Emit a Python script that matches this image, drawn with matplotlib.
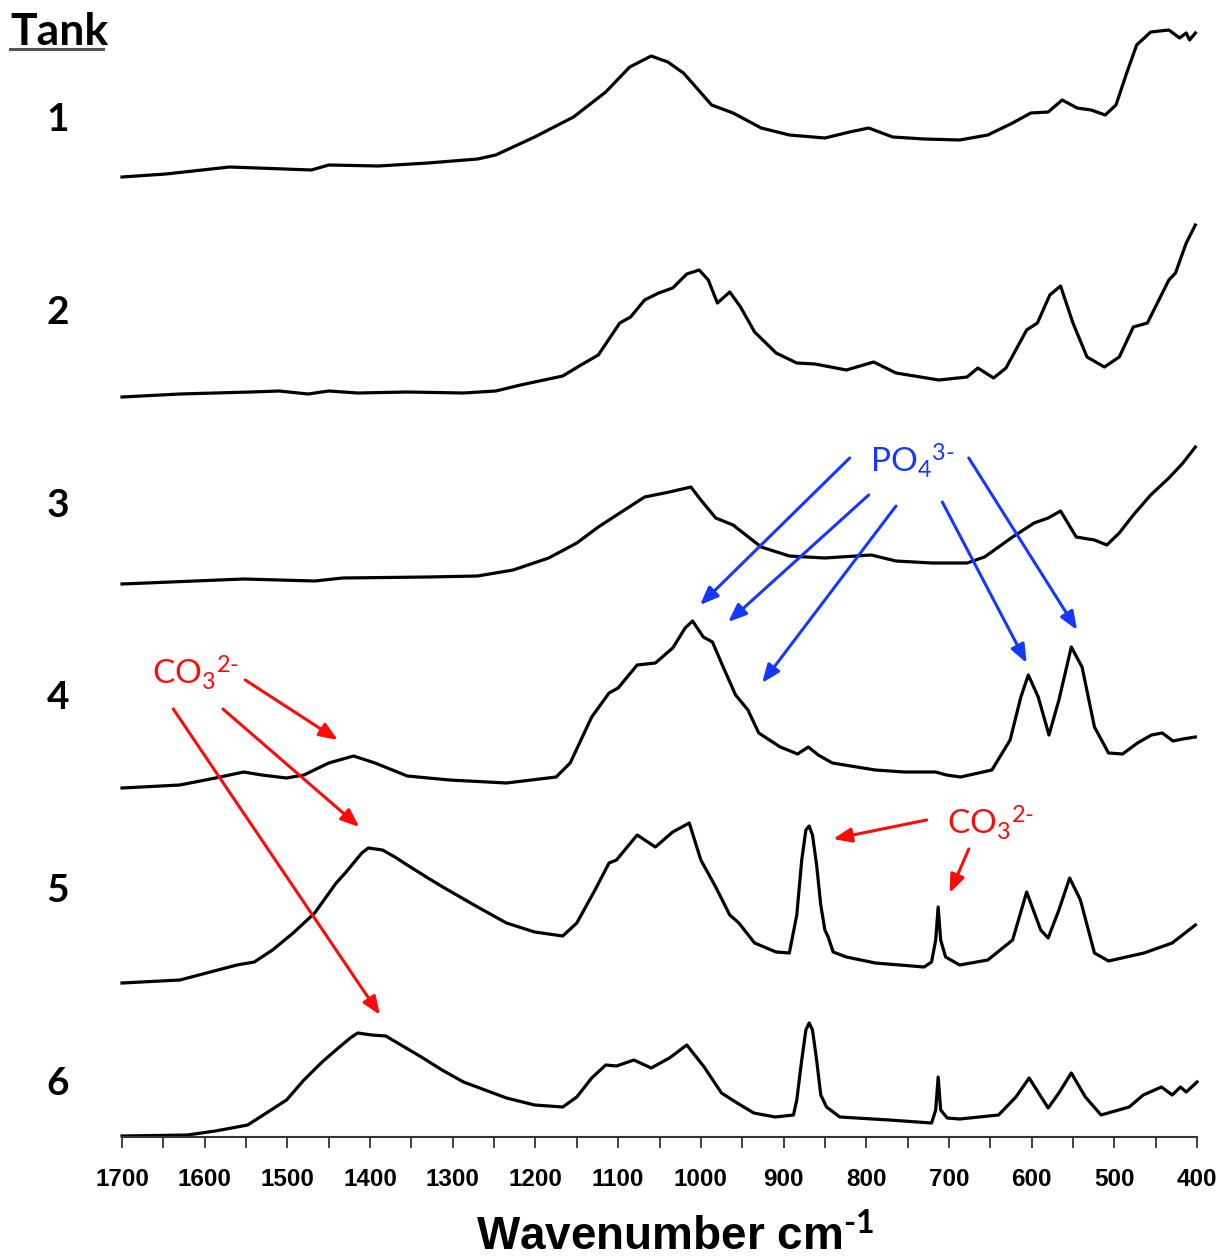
import matplotlib
matplotlib.use("Agg")
import matplotlib.pyplot as plt
from matplotlib.ticker import MultipleLocator
from matplotlib.lines import Line2D

plt.rcParams['mathtext.fontset'] = 'custom'
plt.rcParams['mathtext.rm'] = 'Lato'
plt.rcParams['mathtext.it'] = 'Lato:italic'
plt.rcParams['mathtext.bf'] = 'Lato:bold'

# spectra: wavenumber (cm-1) and absorbance above each trace's start
tanks = ['1', '2', '3', '4', '5', '6']
offsets = [960, 740, 553, 349, 154, 1]

wn1 = [1700, 1647, 1570, 1536, 1471, 1450, 1390, 1330, 1270, 1248, 1201, 1154, 1115, 1086, 1060, 1040, 1021,
       1005, 987, 961, 927, 893, 850, 820, 797, 768, 730, 687, 653, 623, 601, 580, 563, 545, 528, 511, 498,
       485, 473, 456, 434, 421, 413, 409, 402]
ab1 = [0, 3, 10, 9, 7, 12, 11, 14, 18, 22, 40, 60, 85, 110, 121, 115, 104, 89, 72, 64, 49, 42, 39, 45, 49,
       40, 38, 37, 42, 54, 64, 65, 77, 69, 67, 62, 72, 104, 132, 145, 147, 139, 144, 137, 144]

wn2 = [1700, 1630, 1544, 1510, 1475, 1450, 1415, 1355, 1287, 1248, 1218, 1167, 1145, 1124, 1098, 1085, 1068,
       1051, 1034, 1017, 1002, 991, 980, 965, 952, 935, 909, 884, 862, 824, 791, 764, 712, 678, 665, 646, 631,
       606, 593, 578, 565, 550, 533, 512, 494, 477, 460, 434, 426, 413, 402]
ab2 = [0, 3, 5, 6, 3, 6, 4, 5, 4, 6, 12, 21, 32, 42, 74, 80, 97, 104, 109, 123, 127, 117, 94, 105, 90, 65,
       44, 34, 33, 27, 35, 24, 17, 20, 29, 19, 29, 67, 74, 102, 111, 74, 40, 30, 40, 70, 74, 117, 124, 154, 172]

wn3 = [1700, 1553, 1467, 1433, 1330, 1270, 1227, 1184, 1150, 1124, 1098, 1068, 1038, 1012, 1000, 982, 961,
       927, 893, 850, 794, 764, 721, 678, 657, 623, 597, 580, 565, 546, 524, 509, 494, 477, 456, 434, 417, 402]
ab3 = [0, 5, 3, 6, 7, 8, 14, 26, 41, 57, 71, 87, 92, 97, 84, 66, 59, 37, 28, 26, 29, 23, 21, 21, 27, 47, 61,
       66, 73, 47, 44, 39, 51, 69, 89, 106, 121, 137]

wn4 = [1700, 1630, 1587, 1553, 1531, 1501, 1480, 1450, 1420, 1394, 1355, 1304, 1235, 1175, 1158, 1132, 1111,
       1100, 1077, 1055, 1034, 1019, 1010, 997, 986, 973, 958, 943, 930, 904, 883, 870, 858, 841, 789, 754,
       716, 703, 686, 648, 626, 613, 604, 592, 579, 567, 552, 539, 524, 507, 490, 472, 455, 442, 429, 417, 402]
ab4 = [0, 3, 10, 16, 13, 10, 13, 25, 32, 25, 12, 8, 5, 11, 25, 71, 95, 100, 123, 125, 140, 160, 167, 151, 146,
       121, 93, 78, 55, 41, 34, 41, 33, 25, 18, 16, 16, 13, 11, 18, 48, 91, 113, 91, 53, 88, 141, 121, 61, 35,
       34, 45, 53, 55, 47, 49, 51]

wn5 = [1700, 1630, 1561, 1540, 1518, 1493, 1467, 1441, 1430, 1420, 1410, 1402, 1385, 1370, 1355, 1330, 1312,
       1270, 1235, 1201, 1167, 1150, 1128, 1111, 1102, 1077, 1055, 1034, 1014, 1000, 982, 965, 954, 935, 909,
       893, 884, 878, 873, 869, 865, 860, 855, 850, 846, 840, 824, 789, 730, 721, 716, 713, 710, 704, 687, 653,
       623, 606, 589, 580, 567, 554, 541, 524, 507, 464, 430, 402]
ab5 = [0, 3, 18, 21, 33, 50, 70, 100, 110, 120, 130, 135, 133, 126, 118, 105, 96, 76, 60, 51, 47, 60, 93, 120,
       123, 148, 136, 151, 160, 123, 96, 68, 60, 40, 31, 30, 68, 123, 153, 157, 148, 118, 78, 53, 46, 31, 26,
       20, 16, 21, 43, 76, 43, 26, 18, 23, 43, 91, 53, 45, 73, 105, 83, 30, 22, 30, 40, 58]

wn6 = [1700, 1621, 1587, 1548, 1501, 1480, 1458, 1437, 1424, 1415, 1398, 1381, 1338, 1313, 1287, 1235, 1201,
       1167, 1150, 1132, 1115, 1102, 1081, 1060, 1038, 1017, 996, 975, 958, 936, 910, 888, 884, 878, 873, 869,
       865, 860, 855, 848, 832, 772, 721, 716, 713, 710, 702, 687, 640, 619, 603, 580, 567, 552, 535, 516, 482,
       465, 443, 430, 420, 413, 400]
ab6 = [0, 1, 5, 11, 36, 56, 74, 89, 98, 103, 101, 100, 79, 66, 54, 38, 31, 29, 39, 58, 71, 70, 76, 68, 78,
       91, 69, 43, 34, 23, 19, 21, 36, 76, 106, 113, 106, 76, 41, 29, 19, 16, 13, 26, 59, 26, 18, 17, 21, 39,
       58, 28, 43, 63, 39, 21, 29, 41, 49, 41, 49, 44, 54]

wns = [wn1, wn2, wn3, wn4, wn5, wn6]
abs_ = [ab1, ab2, ab3, ab4, ab5, ab6]

BLUE = '#1438ff'
RED = '#ff0a0a'
HY = '\u2010'  # short hyphen used in the ion charges

fig = plt.figure(figsize=(12.25, 12.6), dpi=100)
ax = fig.add_axes([122 / 1225, 123 / 1260, 1075 / 1225, 1137 / 1260])

for w, a, off in zip(wns, abs_, offsets):
    ax.plot(w, [v + off for v in a], color='black', lw=2.3, solid_joinstyle='round', clip_on=False)

ax.set_xlim(1700, 400)
ax.set_ylim(0, 1137)
for s in ['top', 'left', 'right']:
    ax.spines[s].set_visible(False)
ax.spines['bottom'].set_color('#333333')
ax.spines['bottom'].set_linewidth(1.5)
ax.set_yticks([])
ax.xaxis.set_major_locator(MultipleLocator(100))
ax.xaxis.set_minor_locator(MultipleLocator(50))
ax.tick_params(axis='x', which='both', direction='out', length=8, width=1.3, color='#333333')
ax.tick_params(axis='x', which='major', pad=14, labelsize=17.5)
for lab in ax.get_xticklabels():
    lab.set_fontfamily('Liberation Sans')
    lab.set_fontweight('bold')

fig.text(675 / 1225, 10 / 1260, 'Wavenumber cm$^{\\mathbf{' + HY + '1}}$', ha='center', va='baseline',
         fontsize=33, fontweight='bold', family='Liberation Sans')

# tank labels
fig.text(10 / 1225, 1 - 45 / 1260, 'Tank', ha='left', va='baseline', fontsize=32,
         fontweight='bold', family='Lato')
fig.add_artist(Line2D([10 / 1225, 103 / 1225], [1 - 49 / 1260, 1 - 49 / 1260],
                      color='#555555', lw=2.2, transform=fig.transFigure))
for i, t in enumerate(tanks):
    fig.text(58 / 1225, 1 - (131 + i * 192.8) / 1260, t, ha='center', va='baseline',
             fontsize=28, fontweight='bold', family='Lato')

arrow_kw = dict(arrowstyle='-|>,head_length=0.55,head_width=0.22', lw=2.2, shrinkA=0, shrinkB=0,
                mutation_scale=20)

po4 = 'PO$_4$$^{3' + HY + '}$'
co3 = 'CO$_3$$^{2' + HY + '}$'

# phosphate
ax.text(795, 664, po4, color=BLUE, fontsize=24, family='Lato', ha='left', va='baseline')
po4_arrows = [((820, 679), (1001, 532)), ((797, 642), (967, 515)), ((764, 631), (926, 454)),
              ((708, 635), (606, 474)), ((676, 679), (545, 507))]
for st, en in po4_arrows:
    ax.annotate('', xy=en, xytext=st, arrowprops=dict(color=BLUE, **arrow_kw), annotation_clip=False)

# carbonate
ax.text(1664, 452, co3, color=RED, fontsize=24, family='Lato', ha='left', va='baseline')
ax.text(702, 302, co3, color=RED, fontsize=24, family='Lato', ha='left', va='baseline')
co3_arrows = [((1551, 457), (1439, 397)), ((1578, 428), (1413, 310)), ((1638, 428), (1388, 122)),
              ((727, 317), (840, 298)), ((676, 288), (699, 244))]
for st, en in co3_arrows:
    ax.annotate('', xy=en, xytext=st, arrowprops=dict(color=RED, **arrow_kw), annotation_clip=False)

fig.savefig('out.png', dpi=100)
